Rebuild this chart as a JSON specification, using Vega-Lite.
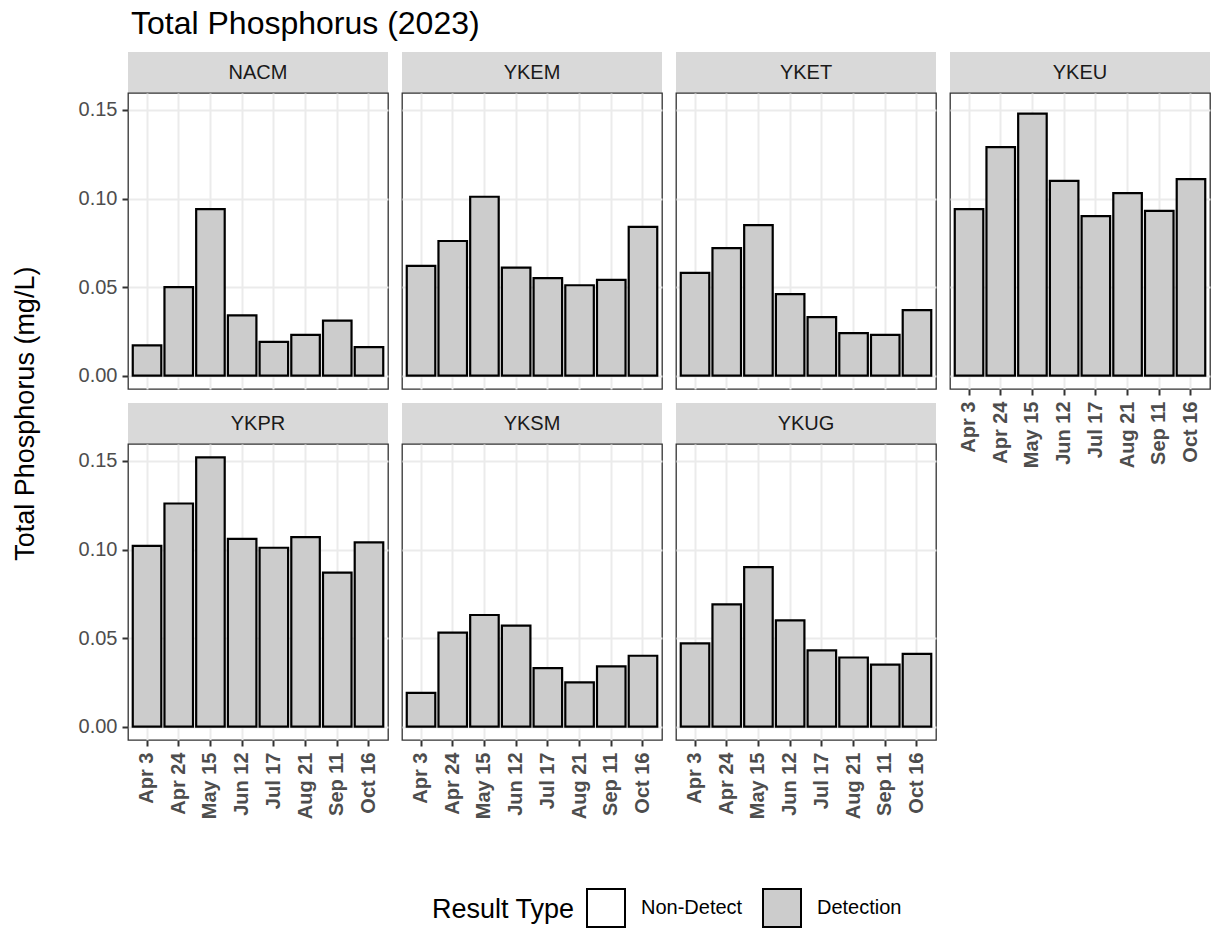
{
  "$schema": "https://vega.github.io/schema/vega-lite/v6.json",
  "background": "#FFFFFF",
  "padding": {"left": 12, "top": 8, "right": 2, "bottom": 4},
  "title": {
    "text": "Total Phosphorus (2023)",
    "anchor": "start",
    "frame": "group",
    "fontSize": 32,
    "fontWeight": "normal",
    "color": "#000000",
    "offset": 11,
    "dx": 3
  },
  "datasets": {
    "tp": [
      {"site": "NACM", "date": "Apr 3", "tp": 0.017, "type": "Detection"},
      {"site": "NACM", "date": "Apr 24", "tp": 0.050, "type": "Detection"},
      {"site": "NACM", "date": "May 15", "tp": 0.094, "type": "Detection"},
      {"site": "NACM", "date": "Jun 12", "tp": 0.034, "type": "Detection"},
      {"site": "NACM", "date": "Jul 17", "tp": 0.019, "type": "Detection"},
      {"site": "NACM", "date": "Aug 21", "tp": 0.023, "type": "Detection"},
      {"site": "NACM", "date": "Sep 11", "tp": 0.031, "type": "Detection"},
      {"site": "NACM", "date": "Oct 16", "tp": 0.016, "type": "Detection"},
      {"site": "YKEM", "date": "Apr 3", "tp": 0.062, "type": "Detection"},
      {"site": "YKEM", "date": "Apr 24", "tp": 0.076, "type": "Detection"},
      {"site": "YKEM", "date": "May 15", "tp": 0.101, "type": "Detection"},
      {"site": "YKEM", "date": "Jun 12", "tp": 0.061, "type": "Detection"},
      {"site": "YKEM", "date": "Jul 17", "tp": 0.055, "type": "Detection"},
      {"site": "YKEM", "date": "Aug 21", "tp": 0.051, "type": "Detection"},
      {"site": "YKEM", "date": "Sep 11", "tp": 0.054, "type": "Detection"},
      {"site": "YKEM", "date": "Oct 16", "tp": 0.084, "type": "Detection"},
      {"site": "YKET", "date": "Apr 3", "tp": 0.058, "type": "Detection"},
      {"site": "YKET", "date": "Apr 24", "tp": 0.072, "type": "Detection"},
      {"site": "YKET", "date": "May 15", "tp": 0.085, "type": "Detection"},
      {"site": "YKET", "date": "Jun 12", "tp": 0.046, "type": "Detection"},
      {"site": "YKET", "date": "Jul 17", "tp": 0.033, "type": "Detection"},
      {"site": "YKET", "date": "Aug 21", "tp": 0.024, "type": "Detection"},
      {"site": "YKET", "date": "Sep 11", "tp": 0.023, "type": "Detection"},
      {"site": "YKET", "date": "Oct 16", "tp": 0.037, "type": "Detection"},
      {"site": "YKEU", "date": "Apr 3", "tp": 0.094, "type": "Detection"},
      {"site": "YKEU", "date": "Apr 24", "tp": 0.129, "type": "Detection"},
      {"site": "YKEU", "date": "May 15", "tp": 0.148, "type": "Detection"},
      {"site": "YKEU", "date": "Jun 12", "tp": 0.110, "type": "Detection"},
      {"site": "YKEU", "date": "Jul 17", "tp": 0.090, "type": "Detection"},
      {"site": "YKEU", "date": "Aug 21", "tp": 0.103, "type": "Detection"},
      {"site": "YKEU", "date": "Sep 11", "tp": 0.093, "type": "Detection"},
      {"site": "YKEU", "date": "Oct 16", "tp": 0.111, "type": "Detection"},
      {"site": "YKPR", "date": "Apr 3", "tp": 0.102, "type": "Detection"},
      {"site": "YKPR", "date": "Apr 24", "tp": 0.126, "type": "Detection"},
      {"site": "YKPR", "date": "May 15", "tp": 0.152, "type": "Detection"},
      {"site": "YKPR", "date": "Jun 12", "tp": 0.106, "type": "Detection"},
      {"site": "YKPR", "date": "Jul 17", "tp": 0.101, "type": "Detection"},
      {"site": "YKPR", "date": "Aug 21", "tp": 0.107, "type": "Detection"},
      {"site": "YKPR", "date": "Sep 11", "tp": 0.087, "type": "Detection"},
      {"site": "YKPR", "date": "Oct 16", "tp": 0.104, "type": "Detection"},
      {"site": "YKSM", "date": "Apr 3", "tp": 0.019, "type": "Detection"},
      {"site": "YKSM", "date": "Apr 24", "tp": 0.053, "type": "Detection"},
      {"site": "YKSM", "date": "May 15", "tp": 0.063, "type": "Detection"},
      {"site": "YKSM", "date": "Jun 12", "tp": 0.057, "type": "Detection"},
      {"site": "YKSM", "date": "Jul 17", "tp": 0.033, "type": "Detection"},
      {"site": "YKSM", "date": "Aug 21", "tp": 0.025, "type": "Detection"},
      {"site": "YKSM", "date": "Sep 11", "tp": 0.034, "type": "Detection"},
      {"site": "YKSM", "date": "Oct 16", "tp": 0.040, "type": "Detection"},
      {"site": "YKUG", "date": "Apr 3", "tp": 0.047, "type": "Detection"},
      {"site": "YKUG", "date": "Apr 24", "tp": 0.069, "type": "Detection"},
      {"site": "YKUG", "date": "May 15", "tp": 0.090, "type": "Detection"},
      {"site": "YKUG", "date": "Jun 12", "tp": 0.060, "type": "Detection"},
      {"site": "YKUG", "date": "Jul 17", "tp": 0.043, "type": "Detection"},
      {"site": "YKUG", "date": "Aug 21", "tp": 0.039, "type": "Detection"},
      {"site": "YKUG", "date": "Sep 11", "tp": 0.035, "type": "Detection"},
      {"site": "YKUG", "date": "Oct 16", "tp": 0.041, "type": "Detection"}
    ]
  },
  "spacing": 12,
  "hconcat": [
    {
      "title": {"text": "Total Phosphorus (mg/L)", "orient": "left", "anchor": "middle", "fontSize": 27, "fontWeight": "normal", "color": "#000000", "offset": 37, "dx": 22},
      "spacing": 13,
      "vconcat": [
        {
          "bounds": "flush",
          "spacing": 0,
          "vconcat": [
            {
              "width": 260, "height": 41,
              "view": {"fill": "#D9D9D9", "stroke": null},
              "data": {"name": "tp"},
              "transform": [{"filter": "datum.site === 'NACM'"}, {"aggregate": [{"op": "count", "as": "n"}], "groupby": ["site"]}],
              "mark": {"type": "text", "fontSize": 20, "color": "#1A1A1A"},
              "encoding": {"text": {"field": "site"}}
            },
            {
              "width": 260, "height": 296,
              "data": {"name": "tp"},
              "transform": [{"filter": "datum.site === 'NACM'"}],
              "mark": {"type": "bar", "stroke": "#000000", "strokeWidth": 2.2},
              "encoding": {
                "x": {"field": "date", "type": "ordinal", "sort": ["Apr 3", "Apr 24", "May 15", "Jun 12", "Jul 17", "Aug 21", "Sep 11", "Oct 16"], "scale": {"paddingInner": 0.1, "paddingOuter": 0.15}, "axis": {"grid": true, "labels": false, "ticks": false, "title": null}},
                "y": {"field": "tp", "type": "quantitative", "scale": {"domain": [-0.0076, 0.1596], "nice": false, "zero": false}, "axis": {"values": [0, 0.05, 0.1, 0.15], "format": ".2f", "grid": true, "title": null, "labelPadding": 5}},
                "y2": {"datum": 0},
                "fill": {"field": "type", "type": "nominal", "scale": {"domain": ["Non-Detect", "Detection"], "range": ["#FFFFFF", "#CCCCCC"]}, "legend": {"title": "Result Type", "orient": "none", "legendX": 304, "legendY": 836, "direction": "horizontal", "titleOrient": "left", "titleFontSize": 27, "titleFontWeight": "normal", "titleColor": "#000000", "titlePadding": 11, "titleBaseline": "middle", "labelFontSize": 20, "labelColor": "#000000", "labelOffset": 15, "columnPadding": 16, "symbolType": "square", "symbolSize": 1444, "symbolStrokeColor": "#000000", "symbolStrokeWidth": 2, "symbolOpacity": 1}}
              }
            }
          ]
        },
        {
          "bounds": "flush",
          "spacing": 0,
          "vconcat": [
            {
              "width": 260, "height": 41,
              "view": {"fill": "#D9D9D9", "stroke": null},
              "data": {"name": "tp"},
              "transform": [{"filter": "datum.site === 'YKPR'"}, {"aggregate": [{"op": "count", "as": "n"}], "groupby": ["site"]}],
              "mark": {"type": "text", "fontSize": 20, "color": "#1A1A1A"},
              "encoding": {"text": {"field": "site"}}
            },
            {
              "width": 260, "height": 296,
              "data": {"name": "tp"},
              "transform": [{"filter": "datum.site === 'YKPR'"}],
              "mark": {"type": "bar", "stroke": "#000000", "strokeWidth": 2.2},
              "encoding": {
                "x": {"field": "date", "type": "ordinal", "sort": ["Apr 3", "Apr 24", "May 15", "Jun 12", "Jul 17", "Aug 21", "Sep 11", "Oct 16"], "scale": {"paddingInner": 0.1, "paddingOuter": 0.15}, "axis": {"grid": true, "labelAngle": -90, "labelFontWeight": "bold", "title": null, "labelPadding": 6}},
                "y": {"field": "tp", "type": "quantitative", "scale": {"domain": [-0.0076, 0.1596], "nice": false, "zero": false}, "axis": {"values": [0, 0.05, 0.1, 0.15], "format": ".2f", "grid": true, "title": null, "labelPadding": 5}},
                "y2": {"datum": 0},
                "fill": {"field": "type", "type": "nominal", "scale": {"domain": ["Non-Detect", "Detection"], "range": ["#FFFFFF", "#CCCCCC"]}, "legend": null}
              }
            }
          ]
        }
      ]
    },
    {
      "spacing": 13,
      "vconcat": [
        {
          "bounds": "flush",
          "spacing": 0,
          "vconcat": [
            {
              "width": 260, "height": 41,
              "view": {"fill": "#D9D9D9", "stroke": null},
              "data": {"name": "tp"},
              "transform": [{"filter": "datum.site === 'YKEM'"}, {"aggregate": [{"op": "count", "as": "n"}], "groupby": ["site"]}],
              "mark": {"type": "text", "fontSize": 20, "color": "#1A1A1A"},
              "encoding": {"text": {"field": "site"}}
            },
            {
              "width": 260, "height": 296,
              "data": {"name": "tp"},
              "transform": [{"filter": "datum.site === 'YKEM'"}],
              "mark": {"type": "bar", "stroke": "#000000", "strokeWidth": 2.2},
              "encoding": {
                "x": {"field": "date", "type": "ordinal", "sort": ["Apr 3", "Apr 24", "May 15", "Jun 12", "Jul 17", "Aug 21", "Sep 11", "Oct 16"], "scale": {"paddingInner": 0.1, "paddingOuter": 0.15}, "axis": {"grid": true, "labels": false, "ticks": false, "title": null}},
                "y": {"field": "tp", "type": "quantitative", "scale": {"domain": [-0.0076, 0.1596], "nice": false, "zero": false}, "axis": {"values": [0, 0.05, 0.1, 0.15], "grid": true, "labels": false, "ticks": false, "title": null}},
                "y2": {"datum": 0},
                "fill": {"field": "type", "type": "nominal", "scale": {"domain": ["Non-Detect", "Detection"], "range": ["#FFFFFF", "#CCCCCC"]}, "legend": null}
              }
            }
          ]
        },
        {
          "bounds": "flush",
          "spacing": 0,
          "vconcat": [
            {
              "width": 260, "height": 41,
              "view": {"fill": "#D9D9D9", "stroke": null},
              "data": {"name": "tp"},
              "transform": [{"filter": "datum.site === 'YKSM'"}, {"aggregate": [{"op": "count", "as": "n"}], "groupby": ["site"]}],
              "mark": {"type": "text", "fontSize": 20, "color": "#1A1A1A"},
              "encoding": {"text": {"field": "site"}}
            },
            {
              "width": 260, "height": 296,
              "data": {"name": "tp"},
              "transform": [{"filter": "datum.site === 'YKSM'"}],
              "mark": {"type": "bar", "stroke": "#000000", "strokeWidth": 2.2},
              "encoding": {
                "x": {"field": "date", "type": "ordinal", "sort": ["Apr 3", "Apr 24", "May 15", "Jun 12", "Jul 17", "Aug 21", "Sep 11", "Oct 16"], "scale": {"paddingInner": 0.1, "paddingOuter": 0.15}, "axis": {"grid": true, "labelAngle": -90, "labelFontWeight": "bold", "title": null, "labelPadding": 6}},
                "y": {"field": "tp", "type": "quantitative", "scale": {"domain": [-0.0076, 0.1596], "nice": false, "zero": false}, "axis": {"values": [0, 0.05, 0.1, 0.15], "grid": true, "labels": false, "ticks": false, "title": null}},
                "y2": {"datum": 0},
                "fill": {"field": "type", "type": "nominal", "scale": {"domain": ["Non-Detect", "Detection"], "range": ["#FFFFFF", "#CCCCCC"]}, "legend": null}
              }
            }
          ]
        }
      ]
    },
    {
      "spacing": 13,
      "vconcat": [
        {
          "bounds": "flush",
          "spacing": 0,
          "vconcat": [
            {
              "width": 260, "height": 41,
              "view": {"fill": "#D9D9D9", "stroke": null},
              "data": {"name": "tp"},
              "transform": [{"filter": "datum.site === 'YKET'"}, {"aggregate": [{"op": "count", "as": "n"}], "groupby": ["site"]}],
              "mark": {"type": "text", "fontSize": 20, "color": "#1A1A1A"},
              "encoding": {"text": {"field": "site"}}
            },
            {
              "width": 260, "height": 296,
              "data": {"name": "tp"},
              "transform": [{"filter": "datum.site === 'YKET'"}],
              "mark": {"type": "bar", "stroke": "#000000", "strokeWidth": 2.2},
              "encoding": {
                "x": {"field": "date", "type": "ordinal", "sort": ["Apr 3", "Apr 24", "May 15", "Jun 12", "Jul 17", "Aug 21", "Sep 11", "Oct 16"], "scale": {"paddingInner": 0.1, "paddingOuter": 0.15}, "axis": {"grid": true, "labels": false, "ticks": false, "title": null}},
                "y": {"field": "tp", "type": "quantitative", "scale": {"domain": [-0.0076, 0.1596], "nice": false, "zero": false}, "axis": {"values": [0, 0.05, 0.1, 0.15], "grid": true, "labels": false, "ticks": false, "title": null}},
                "y2": {"datum": 0},
                "fill": {"field": "type", "type": "nominal", "scale": {"domain": ["Non-Detect", "Detection"], "range": ["#FFFFFF", "#CCCCCC"]}, "legend": null}
              }
            }
          ]
        },
        {
          "bounds": "flush",
          "spacing": 0,
          "vconcat": [
            {
              "width": 260, "height": 41,
              "view": {"fill": "#D9D9D9", "stroke": null},
              "data": {"name": "tp"},
              "transform": [{"filter": "datum.site === 'YKUG'"}, {"aggregate": [{"op": "count", "as": "n"}], "groupby": ["site"]}],
              "mark": {"type": "text", "fontSize": 20, "color": "#1A1A1A"},
              "encoding": {"text": {"field": "site"}}
            },
            {
              "width": 260, "height": 296,
              "data": {"name": "tp"},
              "transform": [{"filter": "datum.site === 'YKUG'"}],
              "mark": {"type": "bar", "stroke": "#000000", "strokeWidth": 2.2},
              "encoding": {
                "x": {"field": "date", "type": "ordinal", "sort": ["Apr 3", "Apr 24", "May 15", "Jun 12", "Jul 17", "Aug 21", "Sep 11", "Oct 16"], "scale": {"paddingInner": 0.1, "paddingOuter": 0.15}, "axis": {"grid": true, "labelAngle": -90, "labelFontWeight": "bold", "title": null, "labelPadding": 6}},
                "y": {"field": "tp", "type": "quantitative", "scale": {"domain": [-0.0076, 0.1596], "nice": false, "zero": false}, "axis": {"values": [0, 0.05, 0.1, 0.15], "grid": true, "labels": false, "ticks": false, "title": null}},
                "y2": {"datum": 0},
                "fill": {"field": "type", "type": "nominal", "scale": {"domain": ["Non-Detect", "Detection"], "range": ["#FFFFFF", "#CCCCCC"]}, "legend": null}
              }
            }
          ]
        }
      ]
    },
    {
      "spacing": 13,
      "vconcat": [
        {
          "bounds": "flush",
          "spacing": 0,
          "vconcat": [
            {
              "width": 260, "height": 41,
              "view": {"fill": "#D9D9D9", "stroke": null},
              "data": {"name": "tp"},
              "transform": [{"filter": "datum.site === 'YKEU'"}, {"aggregate": [{"op": "count", "as": "n"}], "groupby": ["site"]}],
              "mark": {"type": "text", "fontSize": 20, "color": "#1A1A1A"},
              "encoding": {"text": {"field": "site"}}
            },
            {
              "width": 260, "height": 296,
              "data": {"name": "tp"},
              "transform": [{"filter": "datum.site === 'YKEU'"}],
              "mark": {"type": "bar", "stroke": "#000000", "strokeWidth": 2.2},
              "encoding": {
                "x": {"field": "date", "type": "ordinal", "sort": ["Apr 3", "Apr 24", "May 15", "Jun 12", "Jul 17", "Aug 21", "Sep 11", "Oct 16"], "scale": {"paddingInner": 0.1, "paddingOuter": 0.15}, "axis": {"grid": true, "labelAngle": -90, "labelFontWeight": "bold", "title": null, "labelPadding": 6}},
                "y": {"field": "tp", "type": "quantitative", "scale": {"domain": [-0.0076, 0.1596], "nice": false, "zero": false}, "axis": {"values": [0, 0.05, 0.1, 0.15], "grid": true, "labels": false, "ticks": false, "title": null}},
                "y2": {"datum": 0},
                "fill": {"field": "type", "type": "nominal", "scale": {"domain": ["Non-Detect", "Detection"], "range": ["#FFFFFF", "#CCCCCC"]}, "legend": null}
              }
            }
          ]
        }
      ]
    }
  ],
  "config": {
    "font": "Liberation Sans",
    "view": {"stroke": "#333333", "strokeWidth": 1.3},
    "axis": {
      "domain": false,
      "gridColor": "#EBEBEB",
      "gridWidth": 2,
      "tickColor": "#333333",
      "tickWidth": 2,
      "tickSize": 6,
      "labelColor": "#4D4D4D",
      "labelFontSize": 20,
      "titleFontSize": 25,
      "titleFontWeight": "normal",
      "titleColor": "#000000"
    }
  }
}
